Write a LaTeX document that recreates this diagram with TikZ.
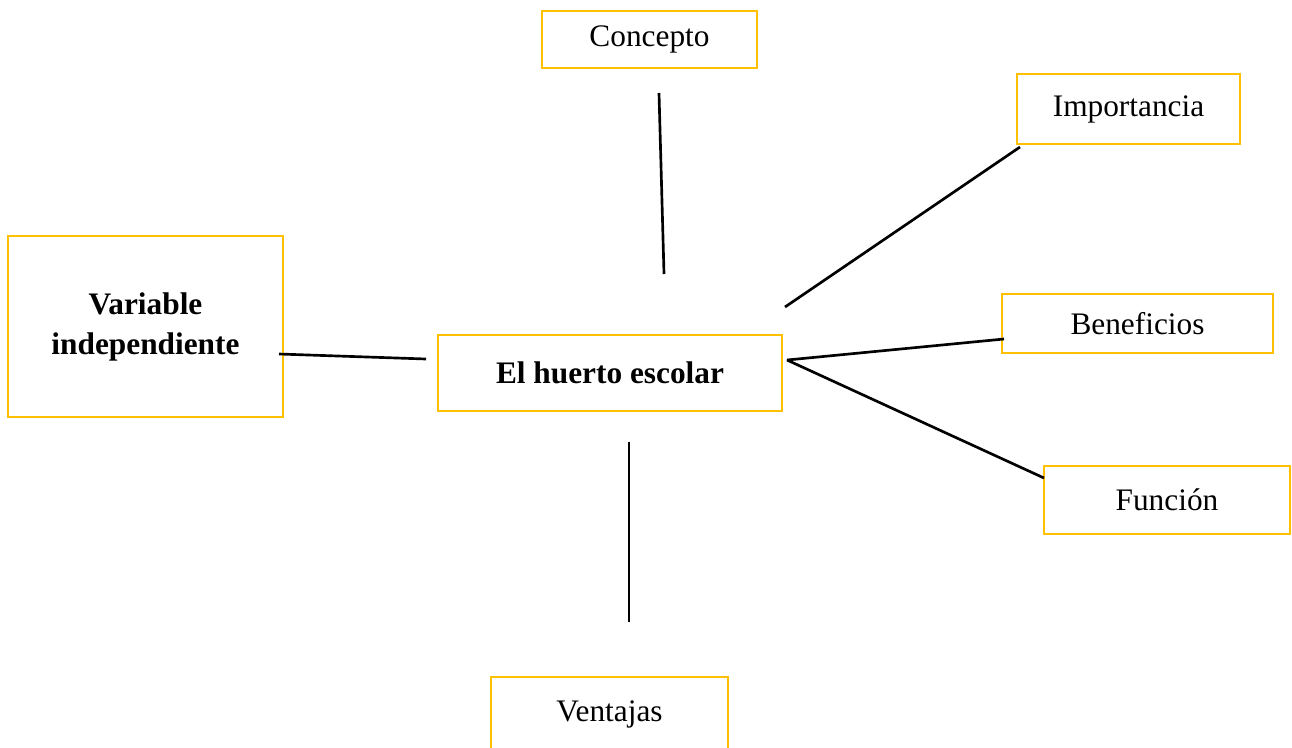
\documentclass[tikz,border=0pt]{standalone}
\usepackage{fontspec}
\setmainfont{Liberation Serif}
\definecolor{borde}{HTML}{FFC000}
\tikzset{
  caja/.style={draw=borde, line width=2.2pt, inner sep=0pt, align=center,
    font=\fontsize{23.5}{30}\selectfont},
  linea/.style={line width=2pt}
}
\begin{document}
\begin{tikzpicture}[x=0.75pt,y=-0.75pt]
    \useasboundingbox (0,0) rectangle (1292,747);
    % cajas
    \node [caja, minimum width=161.25pt, minimum height=42.75pt] (concepto) at (649.5,39.5) {Concepto};
    \node [caja, minimum width=167.25pt, minimum height=52.5pt] (importancia) at (1128.5,109) {Importancia};
    \node [caja, minimum width=206.25pt, minimum height=135.75pt] (variable) at (145.5,326.5) {\bfseries Variable\\\bfseries independiente};
    \node [caja, minimum width=258pt, minimum height=57pt] (huerto) at (610,373) {\bfseries El huerto escolar};
    \node [caja, minimum width=203.25pt, minimum height=44.25pt] (beneficios) at (1137.5,323.5) {Beneficios};
    \node [caja, minimum width=184.5pt, minimum height=51pt] (funcion) at (1167,500) {Función};
    \node [caja, minimum width=177.75pt, minimum height=55.5pt] (ventajas) at (609.5,714) {Ventajas};
    % extremos de las lineas
    \coordinate (c1) at (659,93);
    \coordinate (c2) at (664,274);
    \coordinate (i1) at (785,307);
    \coordinate (i2) at (1020,147);
    \coordinate (v1) at (279,354);
    \coordinate (v2) at (426,359);
    \coordinate (h1) at (787,360);
    \coordinate (b2) at (1004,339);
    \coordinate (f2) at (1044,478);
    \coordinate (t1) at (629,442);
    \coordinate (t2) at (629,622);
    % lineas
    \draw [linea] (c1)--(c2);
    \draw [linea] (i1)--(i2);
    \draw [linea] (v1)--(v2);
    \draw [linea] (h1)--(b2);
    \draw [linea] (h1)--(f2);
    \draw [linea] (t1)--(t2);
  \end{tikzpicture}
\end{document}
